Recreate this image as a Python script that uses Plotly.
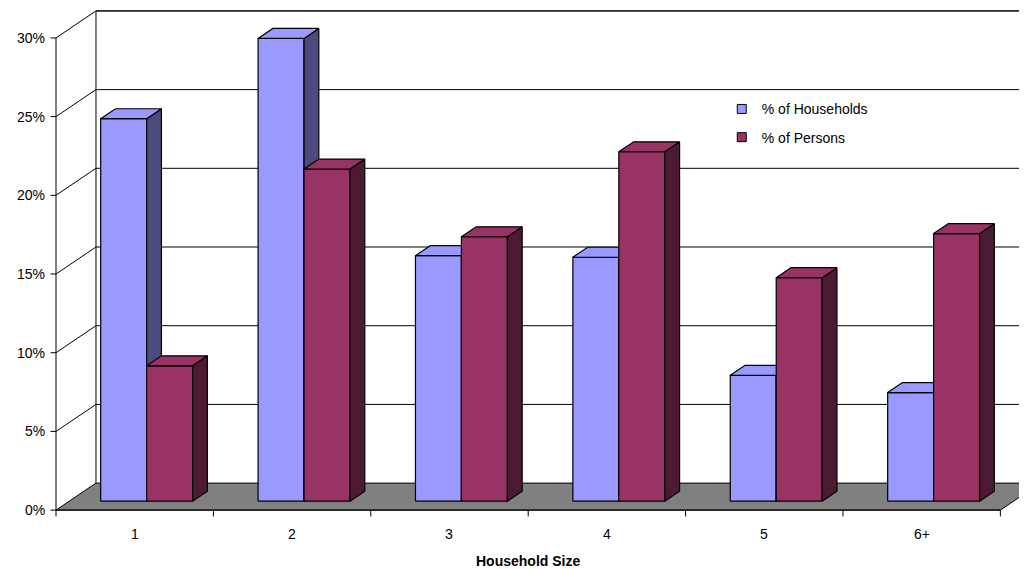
import plotly.graph_objects as go

# data
categories = ['1', '2', '3', '4', '5', '6+']
households = [24.3, 29.4, 15.6, 15.5, 8.0, 6.9]
persons = [8.6, 21.1, 16.8, 22.2, 14.2, 17.0]
y_ticks = [0, 5, 10, 15, 20, 25, 30]
y_tick_text = ['0%', '5%', '10%', '15%', '20%', '25%', '30%']

# 3d geometry (in axis units)
DX, DY = 0.254, 1.715          # full depth of floor
F0, F1 = 0.33, 0.70            # bar depth position (fraction of full depth)
GAP, BW = 0.2, 0.292

fig = go.Figure()

def poly(xs, ys, fill, width=1.2):
    fig.add_trace(go.Scatter(x=xs + [xs[0]], y=ys + [ys[0]], mode='lines', fill='toself',
                             fillcolor=fill, line=dict(color='black', width=width),
                             showlegend=False, hoverinfo='skip'))

def line(xs, ys, width=1, color='black'):
    fig.add_trace(go.Scatter(x=xs, y=ys, mode='lines', line=dict(color=color, width=width),
                             showlegend=False, hoverinfo='skip'))

n = len(categories)
top = y_ticks[-1]

# back wall & left wall
line([DX, DX, n + DX], [DY, top + DY, top + DY])
for v in y_ticks[1:]:
    line([DX, n + 0.5], [v + DY, v + DY])
    line([0, DX], [v, v + DY])
line([0, 0], [0, top])

# floor
poly([0, n, n + DX, DX], [0, 0, DY, DY], '#808080', width=1)

# bars
ox, oy = F0 * DX, F0 * DY
tx, ty = (F1 - F0) * DX, (F1 - F0) * DY
specs = [(households, '#9999FF', '#4B4B80', '% of Households'),
         (persons, '#993366', '#4C1A33', '% of Persons')]
for i in range(n):
    for k, (vals, front, side, nm) in enumerate(specs):
        v = vals[i]
        x0 = i + GAP + k * BW + ox
        x1 = x0 + BW
        y0 = oy
        y1 = oy + v
        poly([x0, x1, x1, x0], [y0, y0, y1, y1], front)
        poly([x1, x1 + tx, x1 + tx, x1], [y0, y0 + ty, y1 + ty, y1], side)
        poly([x0, x1, x1 + tx, x0 + tx], [y1, y1, y1 + ty, y1 + ty], front)

# legend entries
for vals, front, side, nm in specs:
    fig.add_trace(go.Scatter(x=[None], y=[None], mode='markers', name=nm, legendgroup=nm,
                             marker=dict(symbol='square', size=9, color=front,
                                         line=dict(color='black', width=1))))

# axes
line([0, n], [0, 0])
for v, t in zip(y_ticks, y_tick_text):
    line([-0.035, 0], [v, v])
    fig.add_annotation(x=-0.06, y=v, text=t, showarrow=False, xanchor='right')
for i in range(n + 1):
    line([i, i], [0, -0.4])
for i, c in enumerate(categories):
    fig.add_annotation(x=i + 0.5, y=-1.5, text=c, showarrow=False)
fig.add_annotation(x=n / 2, y=-3.25, text='<b>Household Size</b>', showarrow=False)

fig.update_layout(
    width=1027, height=569, margin=dict(l=0, r=0, t=0, b=0),
    plot_bgcolor='white', paper_bgcolor='white',
    font=dict(family='Liberation Sans, Arial', size=14, color='black'),
    xaxis=dict(range=[-0.305, 6.22], visible=False, fixedrange=True),
    yaxis=dict(range=[-4.25, 31.9], visible=False, fixedrange=True),
    legend=dict(x=0.695, y=0.85, xanchor='left', yanchor='top', bgcolor='rgba(0,0,0,0)',
                font=dict(size=14), itemwidth=30, tracegroupgap=7),
)

fig.write_html('out.html')
